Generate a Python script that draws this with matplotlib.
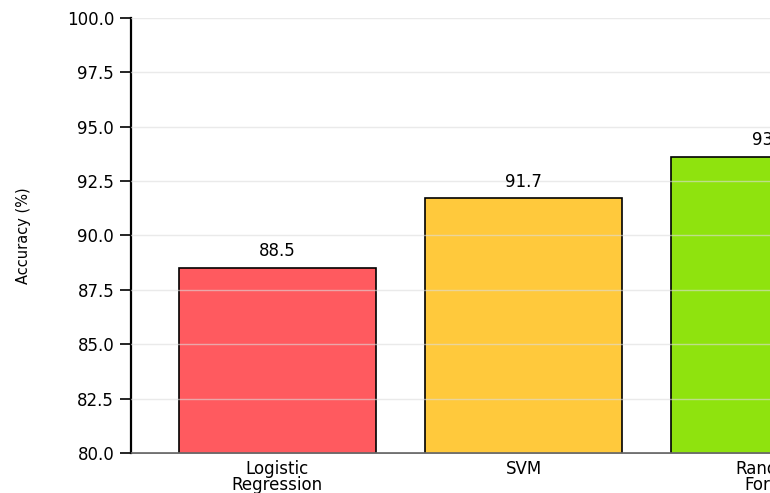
import matplotlib
matplotlib.use('Agg')
import matplotlib.pyplot as plt
import numpy as np

# Model accuracy scores (%)
models = ['Logistic\nRegression', 'SVM', 'Random\nForest']
accuracy = [88.5, 91.7, 93.6]
colors = ['#ff5a5f', '#ffc93c', '#8fe30e']

fig = plt.figure(figsize=(7.7, 4.93), dpi=100)
ax = fig.add_axes([0.170, 0.081, 0.830, 0.883])

x = np.arange(len(models))
bars = ax.bar(x, accuracy, width=0.8, color=colors, edgecolor='black', linewidth=1.2, zorder=2)

for bar, val in zip(bars, accuracy):
    ax.text(bar.get_x() + bar.get_width() / 2, val + 0.35, f'{val:.1f}',
            ha='center', va='bottom', fontsize=12, zorder=4)

ax.set_ylim(80, 100)
# the third bar runs off the right edge of the figure
ax.set_xlim(-0.595, 1.935)
ax.set_yticks(np.arange(80, 100.1, 2.5))
ax.set_yticklabels([f'{v:.1f}' for v in np.arange(80, 100.1, 2.5)], fontsize=12)
ax.set_xticks(x)
ax.set_xticklabels(models, fontsize=12, linespacing=0.85)
ax.set_ylabel('Accuracy (%)', fontsize=10.5, labelpad=26)

ax.grid(axis='y', color='#dcdcdc', alpha=0.6, linewidth=1, zorder=3)
ax.set_axisbelow(False)
for side in ['top', 'right']:
    ax.spines[side].set_visible(False)
ax.spines['left'].set_linewidth(1.6)
ax.spines['bottom'].set_color('#555555')
ax.spines['bottom'].set_linewidth(1.2)
ax.tick_params(axis='y', length=8, width=1.2, pad=4)
ax.tick_params(axis='x', length=0, pad=5)

fig.savefig('out.png', dpi=100)
